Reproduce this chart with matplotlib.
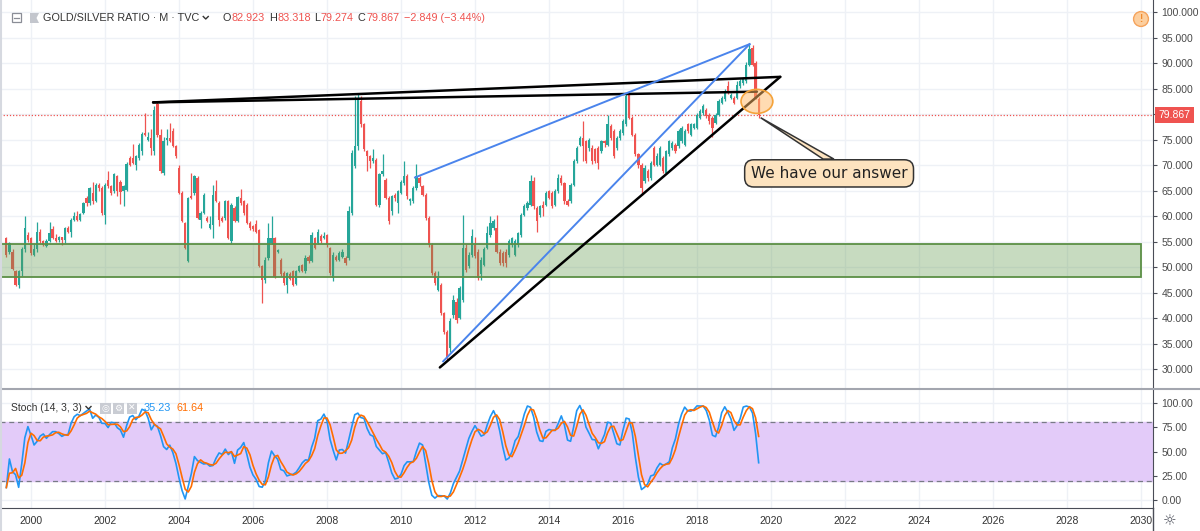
import numpy as np
import pandas as pd
import matplotlib
matplotlib.use("Agg")
import matplotlib.pyplot as plt
from matplotlib.patches import Rectangle, Ellipse, Polygon
from matplotlib.lines import Line2D

plt.rcParams["font.family"] = ["Liberation Sans", "DejaVu Sans"]

# monthly candles of the gold/silver ratio, May 1999 .. Sep 2019
first_month = "1999-05-01"
opens = [55.7, 53.1, 53.1, 49.2, 46.6, 49.2, 53.5, 56.4,
         55.7, 52.5, 53.5, 57.0, 55.1, 54.2, 55.1, 57.5, 55.7, 55.4, 55.9, 55.4,
         57.7, 57.0, 59.3, 60.0, 59.3, 60.6, 63.6, 62.6, 64.5, 62.9, 66.2, 65.5,
         60.3, 67.2, 65.9, 64.9, 67.8, 66.8, 64.9, 65.2, 71.4, 71.4, 70.1, 71.4,
         72.7, 76.3, 75.0, 75.4, 72.7, 81.9, 76.0, 68.5, 75.0, 75.4, 76.7, 73.7,
         69.5, 64.6, 58.7, 51.2, 63.9, 64.6, 67.5, 59.3, 60.6, 59.7, 57.8, 58.2,
         64.9, 62.6, 59.7, 59.7, 62.9, 55.1, 61.6, 59.0, 63.6, 62.9, 62.3, 58.7,
         58.0, 58.4, 57.4, 50.2, 47.6, 51.8, 54.8, 55.7, 53.0, 51.5, 48.9, 46.6,
         48.6, 49.2, 46.7, 49.2, 50.4, 49.2, 52.1, 51.2, 55.7, 54.8, 56.1, 55.7,
         56.3, 53.8, 47.9, 52.1, 51.5, 52.1, 51.8, 51.8, 60.6, 69.8, 73.7, 82.5,
         78.0, 72.7, 71.8, 70.8, 71.1, 62.3, 68.2, 67.2, 63.6, 61.0, 64.2, 62.6,
         64.6, 66.5, 67.8, 62.9, 62.9, 65.5, 67.5, 65.9, 64.2, 59.7, 54.4, 48.9,
         45.6, 46.6, 41.0, 37.4, 34.2, 40.7, 43.3, 40.0, 43.6, 53.8, 50.2, 52.5,
         54.4, 53.1, 48.6, 50.5, 53.8, 56.4, 57.7, 57.7, 53.1, 52.8, 53.1, 52.5,
         54.4, 52.5, 54.4, 56.4, 60.3, 61.6, 62.3, 66.9, 61.6, 60.3, 62.3, 62.3,
         64.9, 64.6, 62.3, 64.9, 67.5, 66.5, 62.9, 62.9, 66.2, 70.8, 74.0, 75.4,
         74.7, 73.4, 73.4, 73.1, 73.4, 72.7, 74.7, 74.0, 77.6, 76.7, 73.4, 75.4,
         76.3, 78.0, 83.8, 79.3, 76.0, 72.1, 70.1, 66.9, 68.8, 67.5, 73.4, 70.1,
         70.1, 71.4, 68.5, 72.1, 73.4, 74.0, 73.7, 74.7, 74.0, 78.0, 76.0, 77.3,
         77.3, 79.3, 80.3, 80.9, 79.9, 79.3, 78.3, 79.9, 82.2, 82.9, 85.5, 83.2,
         83.2, 83.2, 85.5, 86.1, 86.5, 89.7, 93.0, 90.1, 82.923]
highs = [55.9, 55.0, 53.5, 49.4, 49.5, 54.0, 60.0, 57.0,
         56.0, 54.5, 58.9, 57.5, 55.4, 55.5, 58.9, 58.0, 56.5, 56.2, 56.0, 57.9,
         58.0, 59.6, 60.8, 61.0, 60.7, 62.8, 64.0, 65.8, 66.7, 66.5, 66.6, 66.0,
         66.5, 68.8, 66.2, 68.5, 68.0, 67.2, 66.2, 70.6, 71.8, 74.2, 72.0, 74.3,
         76.5, 80.2, 76.5, 77.0, 81.5, 82.3, 77.0, 75.5, 77.0, 78.3, 77.3, 74.0,
         70.0, 64.9, 58.8, 63.8, 68.5, 68.0, 67.9, 61.0, 64.5, 60.0, 60.0, 66.2,
         67.2, 63.0, 60.0, 63.2, 63.2, 62.6, 62.0, 64.0, 65.4, 63.2, 62.6, 59.0,
         58.2, 59.3, 57.6, 50.5, 52.0, 58.7, 60.0, 56.0, 53.5, 51.8, 49.2, 49.0,
         49.0, 49.5, 49.4, 50.5, 50.6, 52.5, 52.4, 57.0, 56.0, 57.5, 56.5, 57.0,
         56.6, 54.0, 53.0, 52.5, 53.2, 53.5, 52.2, 62.0, 73.0, 83.5, 83.9, 83.5,
         78.3, 73.0, 72.0, 73.1, 71.4, 68.5, 72.1, 67.5, 63.9, 64.2, 64.6, 65.2,
         67.2, 70.8, 68.2, 63.6, 65.9, 70.3, 67.8, 66.2, 64.6, 60.0, 54.8, 49.2,
         49.2, 47.0, 41.3, 37.8, 40.0, 44.5, 44.0, 46.3, 60.2, 54.5, 53.0, 57.5,
         56.0, 53.5, 52.0, 54.0, 58.0, 60.0, 59.5, 60.2, 53.5, 53.2, 53.5, 55.5,
         56.0, 55.5, 57.0, 60.6, 62.5, 63.0, 68.0, 67.7, 62.0, 62.3, 63.0, 65.0,
         65.2, 65.0, 65.3, 68.3, 68.0, 66.8, 63.3, 66.6, 71.2, 73.8, 75.8, 78.6,
         75.0, 75.4, 74.0, 73.4, 73.7, 75.0, 75.0, 79.9, 78.0, 77.0, 75.7, 77.0,
         79.0, 84.2, 84.2, 79.6, 76.3, 72.4, 70.4, 70.0, 69.2, 70.8, 73.8, 72.4,
         73.7, 71.8, 73.0, 75.0, 74.8, 74.4, 77.0, 77.6, 77.0, 78.3, 78.3, 78.3,
         80.3, 81.0, 82.0, 81.3, 80.3, 79.6, 80.3, 82.9, 83.6, 84.9, 86.5, 84.2,
         83.5, 86.5, 86.8, 87.2, 90.2, 93.7, 93.6, 90.4, 83.318]
lows = [52.0, 52.7, 49.5, 46.3, 45.9, 48.3, 53.0, 55.0,
        52.5, 52.3, 53.0, 54.8, 54.2, 54.0, 55.0, 55.5, 54.9, 54.9, 54.3, 54.8,
        56.8, 56.0, 59.0, 59.0, 59.0, 60.4, 62.0, 62.3, 62.5, 62.7, 65.0, 60.3,
        58.5, 65.5, 64.2, 64.6, 64.0, 62.5, 62.0, 65.0, 69.8, 70.2, 69.0, 71.0,
        72.0, 75.8, 74.8, 72.0, 72.0, 75.5, 68.5, 68.0, 74.0, 74.5, 73.5, 71.5,
        64.3, 58.8, 53.6, 51.0, 63.4, 64.2, 59.4, 57.7, 60.4, 58.8, 57.6, 55.7,
        62.7, 58.0, 58.8, 59.3, 55.5, 54.8, 58.8, 58.8, 62.3, 60.3, 58.4, 57.4,
        57.2, 56.8, 50.0, 43.0, 47.0, 51.5, 54.6, 48.0, 52.8, 48.3, 46.6, 45.0,
        47.6, 46.3, 46.5, 49.0, 49.0, 48.8, 50.8, 51.0, 53.5, 54.5, 54.8, 55.5,
        54.0, 48.5, 47.3, 51.2, 51.2, 51.8, 50.5, 51.5, 60.3, 69.5, 73.0, 77.5,
        72.8, 68.8, 69.5, 70.5, 62.0, 61.8, 67.8, 63.3, 58.4, 60.3, 63.0, 60.6,
        64.3, 66.2, 63.3, 62.3, 62.6, 65.2, 66.0, 63.9, 59.3, 54.0, 48.5, 46.5,
        45.3, 40.7, 37.0, 31.9, 33.5, 40.0, 39.2, 39.8, 43.3, 49.0, 49.9, 52.0,
        51.9, 47.6, 47.6, 50.2, 53.5, 56.0, 57.3, 52.8, 50.5, 50.3, 50.0, 52.0,
        54.0, 52.2, 54.0, 56.0, 60.0, 61.3, 62.0, 61.5, 56.9, 59.8, 60.0, 62.0,
        63.3, 61.6, 62.0, 64.6, 66.2, 62.5, 62.0, 62.6, 65.9, 70.5, 73.7, 70.8,
        70.5, 72.8, 70.3, 70.5, 69.2, 72.4, 73.5, 73.7, 75.0, 71.5, 73.0, 75.0,
        76.0, 77.6, 79.0, 75.7, 71.8, 69.5, 64.2, 66.5, 67.0, 67.2, 69.8, 69.8,
        69.8, 68.5, 68.2, 71.8, 73.0, 72.4, 73.4, 74.4, 73.7, 76.3, 75.7, 77.0,
        77.0, 79.0, 79.9, 79.3, 78.0, 75.5, 78.0, 79.6, 81.9, 82.5, 83.9, 82.9,
        81.9, 82.9, 85.2, 85.8, 86.1, 89.4, 89.4, 82.9, 79.274]
closes = [52.5, 54.8, 49.7, 46.6, 49.2, 53.5, 57.7, 55.4,
          52.8, 53.5, 57.0, 55.1, 54.4, 55.1, 56.7, 55.7, 55.1, 55.9, 55.4, 57.7,
          57.0, 59.3, 60.0, 59.3, 60.4, 62.6, 62.6, 65.5, 62.9, 66.2, 65.5, 60.6,
          66.2, 65.9, 64.6, 68.2, 64.9, 64.7, 65.9, 70.3, 70.1, 70.5, 71.8, 74.0,
          76.1, 76.0, 75.5, 73.3, 80.9, 76.0, 68.8, 74.7, 75.4, 74.7, 73.7, 71.8,
          64.6, 59.0, 53.8, 63.6, 63.6, 67.8, 59.7, 60.6, 64.2, 59.0, 58.4, 64.2,
          62.9, 59.3, 59.0, 62.9, 55.7, 62.3, 59.0, 63.7, 62.6, 60.6, 58.7, 57.7,
          57.6, 57.0, 50.2, 47.6, 51.5, 55.7, 55.7, 48.2, 53.3, 48.6, 46.9, 48.9,
          47.8, 46.6, 49.2, 50.2, 49.2, 51.8, 51.2, 56.4, 53.8, 57.0, 55.1, 56.1,
          54.4, 48.9, 52.5, 51.5, 52.8, 53.1, 50.8, 61.0, 72.4, 73.7, 83.2, 78.0,
          73.1, 71.8, 70.8, 71.4, 62.3, 68.2, 68.8, 63.6, 59.0, 63.9, 63.6, 64.9,
          66.8, 67.8, 63.9, 63.3, 65.5, 67.8, 66.5, 64.2, 59.7, 54.4, 48.9, 46.9,
          47.9, 41.0, 37.4, 32.2, 39.4, 43.6, 39.6, 45.9, 53.8, 49.5, 52.5, 56.1,
          52.2, 47.9, 51.5, 53.5, 56.7, 58.7, 59.0, 53.1, 50.8, 50.8, 50.8, 55.1,
          55.7, 55.1, 56.7, 60.3, 62.0, 62.6, 66.9, 62.0, 59.0, 62.0, 61.6, 64.6,
          63.6, 62.0, 64.9, 67.5, 66.5, 62.9, 62.3, 66.2, 70.8, 73.4, 75.4, 73.7,
          70.8, 75.0, 70.8, 70.8, 70.5, 74.7, 74.4, 78.0, 75.4, 71.8, 75.4, 76.7,
          78.6, 83.5, 79.3, 76.0, 72.1, 70.1, 65.6, 69.5, 67.5, 70.5, 70.1, 71.8,
          73.4, 68.8, 72.7, 74.7, 74.4, 72.7, 76.7, 77.3, 76.7, 76.7, 78.0, 78.0,
          79.9, 80.6, 81.6, 79.6, 78.6, 77.3, 79.9, 82.5, 83.2, 84.5, 84.2, 83.8,
          82.2, 85.8, 86.5, 86.8, 89.7, 92.7, 89.7, 83.2, 79.867]

zone_low, zone_high = 48.2, 54.6
zone_start, zone_end = 1999.0, 2030.0

# hand drawn trend lines, (year, price) anchors
black_lines = [[(2003.30, 82.3), (2020.25, 87.3)],
               [(2003.30, 82.3), (2019.62, 84.4)],
               [(2011.05, 30.4), (2020.25, 87.3)]]
blue_lines = [[(2010.38, 67.6), (2019.42, 93.7)],
              [(2011.14, 31.6), (2019.42, 93.7)]]
circle_center = (2019.62, 82.5)
callout_tip = (2019.72, 79.3)
callout_pos = (2021.57, 68.4)
callout_text = "We have our answer"

last_price = 79.867
stoch_k_last, stoch_d_last = "35.23", "61.64"
header_title = "GOLD/SILVER RATIO · M · TVC"
header_ohlc = [("O", "82.923"), ("H", "83.318"), ("L", "79.274"), ("C", "79.867")]
header_change = "−2.849 (−3.44%)"
year_ticks = list(range(2000, 2031, 2))
price_ticks = list(range(30, 101, 5))
stoch_ticks = [0, 25, 50, 75, 100]

W, H = 1200, 531
UP, DOWN = "#26a69a", "#ef5350"
GRID = "#eef1f6"
AXC = "#4a4d57"
FS = 7.8


def fx(x):
    return x / W


def fy(y):
    return 1 - y / H


dates = pd.date_range(first_month, periods=len(closes), freq="MS")
t = np.array(dates.year + (dates.month - 1) / 12.0)
o, hi, lo, c = (np.array(v, dtype=float) for v in (opens, highs, lows, closes))
cols = np.where(c >= o, UP, DOWN)

# Stoch(14, 3, 3)
df = pd.DataFrame({"h": hi, "l": lo, "c": c})
hh = df["h"].rolling(14, min_periods=1).max()
ll = df["l"].rolling(14, min_periods=1).min()
raw = 100 * (df["c"] - ll) / (hh - ll)
k = raw.rolling(3, min_periods=1).mean()
d = k.rolling(3, min_periods=1).mean()

fig = plt.figure(figsize=(12, 5.31), dpi=100)
ax = fig.add_axes([0, fy(389), fx(1153), 389 / H])
ax2 = fig.add_axes([0, fy(508), fx(1153), 119 / H], sharex=ax)

ax.set_xlim(2000 - 31 / 37, 2000 + 1122 / 37)
ax.set_ylim(100 - 377 / 5.107, 100 + 12 / 5.107)
ax2.set_ylim(-8 / 0.97, 100 + 14 / 0.97)

for a in (ax, ax2):
    for s in ("top", "left", "bottom"):
        a.spines[s].set_visible(False)
    a.spines["right"].set_color(AXC)
    a.set_xticks(year_ticks)
    a.grid(True, color=GRID, lw=1, zorder=0)
    a.set_axisbelow(True)
    a.yaxis.tick_right()
    a.tick_params(axis="y", length=3, pad=3, labelsize=7.5, color=AXC, labelcolor="#4a4a4a")
ax2.spines["bottom"].set_visible(True)
ax2.spines["bottom"].set_color(AXC)

ax.set_yticks(price_ticks)
# the 80 label sits under the last-price marker
ax.yaxis.set_major_formatter(matplotlib.ticker.FuncFormatter(
    lambda v, p: "" if abs(v - 80) < 1e-6 else f"{v:.3f}"))
ax.tick_params(axis="x", bottom=False, labelbottom=False)
ax2.set_yticks(stoch_ticks)
ax2.yaxis.set_major_formatter(matplotlib.ticker.FormatStrFormatter("%.2f"))
ax2.set_xticklabels([str(y) for y in year_ticks])
ax2.tick_params(axis="x", length=0, pad=6, labelsize=7.5, labelcolor="#333333")

# candles
ax.vlines(t, lo, hi, colors=cols, lw=0.9, zorder=2)
ax.bar(t, np.maximum(np.abs(c - o), 0.15), bottom=np.minimum(o, c), width=0.06,
       color=cols, linewidth=0, zorder=3)

# support zone
ax.add_patch(Rectangle((zone_start, zone_low), zone_end - zone_start, zone_high - zone_low,
                       facecolor=(0.38, 0.6, 0.3, 0.35), edgecolor="#5b8f45", lw=1.3, zorder=4))

for ln in black_lines:
    ax.plot([p[0] for p in ln], [p[1] for p in ln], color="black", lw=1.8,
            solid_capstyle="round", zorder=5)
for ln in blue_lines:
    ax.plot([p[0] for p in ln], [p[1] for p in ln], color="#4a84ec", lw=1.4, zorder=5)

ax.add_patch(Ellipse(circle_center, 0.86, 4.7, facecolor=(1, 0.72, 0.4, 0.5),
                     edgecolor="#f5a33a", lw=1.2, zorder=6))

# last price
ax.axhline(last_price, color=DOWN, ls=(0, (1, 1.5)), lw=0.9, zorder=1)
ax.annotate(f"{last_price:.3f}", xy=(1.0, last_price), xycoords=("axes fraction", "data"),
            xytext=(4, 0), textcoords="offset points", ha="left", va="center",
            color="white", fontsize=7.5, annotation_clip=False,
            bbox=dict(boxstyle="square,pad=0.3", fc=DOWN, ec="none"))

# callout
cx, cy = callout_pos
ax.add_patch(Polygon([callout_tip, (cx - 0.16, cy + 2.8), (cx + 0.13, cy + 2.8)],
                     closed=True, facecolor="#fde3bf", edgecolor="#333333", lw=1.1, zorder=7))
ax.text(cx, cy, callout_text, ha="center", va="center", fontsize=11,
        family=["DejaVu Sans"], color="#222222", zorder=8,
        bbox=dict(boxstyle="round,pad=0.4,rounding_size=0.6", fc="#fde3bf", ec="#333333", lw=1.1))

# stochastic
ax2.axhspan(20, 80, color="#e3cbf9", zorder=1)
for lvl in (20, 80):
    ax2.axhline(lvl, color="#787b86", ls=(0, (4, 3)), lw=0.9, zorder=2)
ax2.plot(t, k, color="#2196f3", lw=1.2, zorder=3)
ax2.plot(t, d, color="#ff6d00", lw=1.2, zorder=4)

# frame lines
fig.add_artist(Line2D([0, 1], [fy(389), fy(389)], color="#a3a6af", lw=1.5))
fig.add_artist(Line2D([fx(1153), fx(1153)], [0, fy(508)], color=AXC, lw=1))
fig.add_artist(Line2D([fx(1), fx(1)], [0, 1], color="#d6d9e0", lw=1.5))

renderer = fig.canvas.get_renderer()


def put(x, y, s, color="#333333", size=FS, **kw):
    txt = fig.text(fx(x), fy(y), s, fontsize=size, color=color, va="center", **kw)
    return txt.get_window_extent(renderer).x1


def chevron(x, y):
    fig.add_artist(Line2D([fx(x), fx(x + 2.5), fx(x + 5)], [fy(y - 1.5), fy(y + 1), fy(y - 1.5)],
                          color="#333333", lw=1))


# header legend
fig.add_artist(Rectangle((fx(12), fy(22)), 9 / W, 9 / H, fill=False, ec="#8a8d96", lw=0.9))
fig.add_artist(Line2D([fx(14), fx(19)], [fy(17.5), fy(17.5)], color="#8a8d96", lw=0.9))
fig.add_artist(Polygon([(fx(30), fy(13)), (fx(39), fy(13)), (fx(36.5), fy(18)), (fx(39), fy(23)),
                        (fx(30), fy(23))], closed=True, fc="#c3c6cd", ec="none"))
end = put(43, 18, header_title)
chevron(end + 4, 18)
for (lab, val), xp in zip(header_ohlc, (222.5, 269, 314, 358)):
    end = put(xp, 18, lab)
    put(end + 0.5, 18, val, color=DOWN)
put(404, 18, header_change, color=DOWN)
fig.text(fx(1141), fy(19), "!", fontsize=7, color="#f08a2c", ha="center", va="center",
         fontweight="bold",
         bbox=dict(boxstyle="circle,pad=0.25", fc="#fccf9f", ec="#f5a35c", lw=1))

# stoch legend
end = put(11, 408, "Stoch (14, 3, 3)", size=7.5)
chevron(max(end + 4, 86), 408)
for xp, g in zip((100, 113, 126.5), ("◎", "⚙", "✕")):
    fig.add_artist(Rectangle((fx(xp), fy(413.5)), 10.5 / W, 10.5 / H, fc="#c9ccd3", ec="none"))
    fig.text(fx(xp + 5.25), fy(408.3), g, fontsize=6.5, color="white", ha="center",
             va="center", family=["DejaVu Sans"])
end = put(144, 408, stoch_k_last, color="#2196f3")
put(end + 5, 408, stoch_d_last, color="#ff6d00")

fig.text(fx(1170), fy(521), "☼", fontsize=11, color="#50535e", ha="center", va="center",
         family=["DejaVu Sans"])

fig.savefig("out.png", dpi=100, facecolor="white")
